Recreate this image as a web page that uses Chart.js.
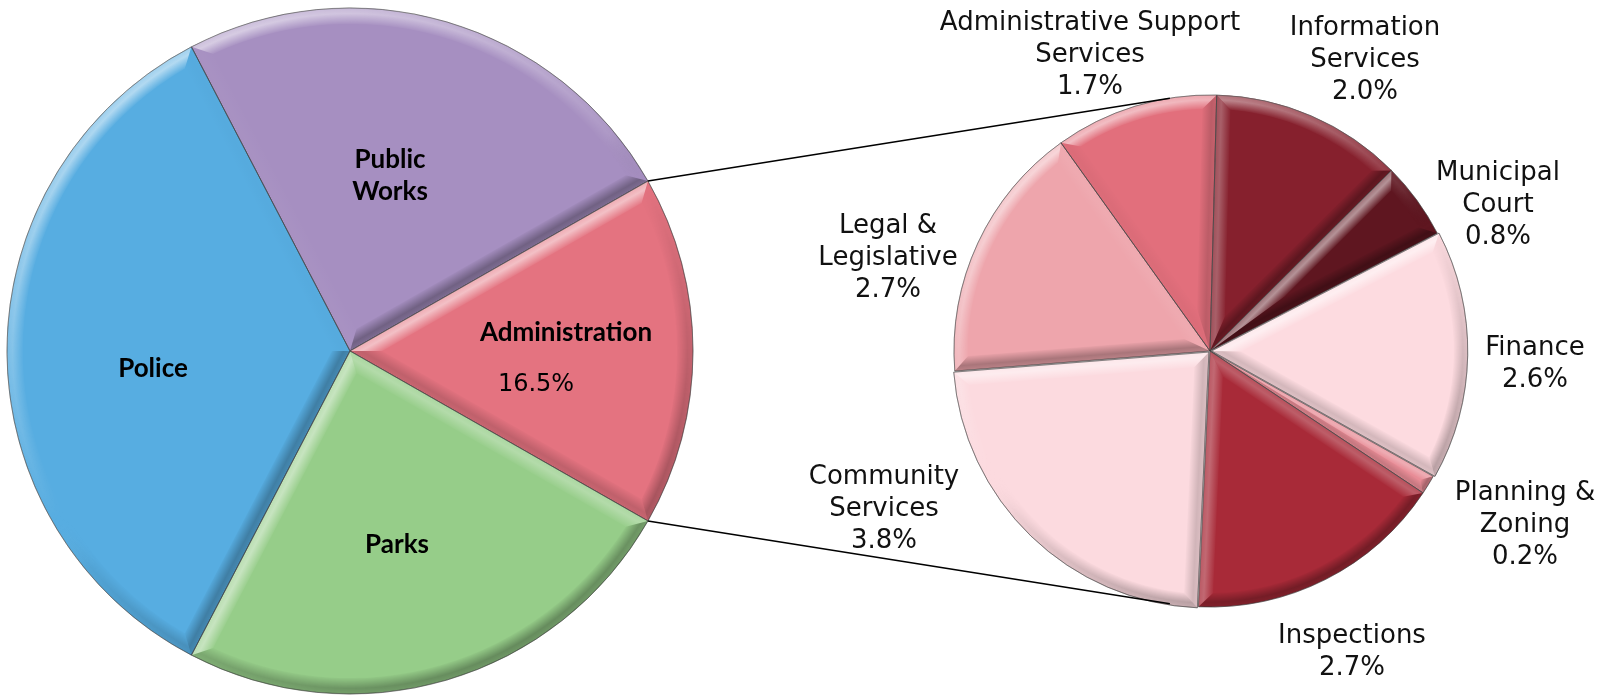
<!DOCTYPE html>
<html>
<head>
<meta charset="utf-8">
<title>General Fund Expenditures by Department</title>
<script src="https://cdn.jsdelivr.net/npm/chart.js@4.4.1/dist/chart.umd.min.js"></script>
<style>
  html, body { margin: 0; padding: 0; background: #fff; overflow: hidden; }
  #stage { position: relative; width: 1610px; height: 696px; }
  canvas { position: absolute; top: 0; }
  #mainPie { left: 0; }
  #adminPie { left: 600px; }
</style>
</head>
<body>
<div id="stage">
  <canvas id="mainPie" width="700" height="696"></canvas>
  <canvas id="adminPie" width="1010" height="696"></canvas>
</div>
<script>
// ---- Data ----
const DEPARTMENTS = ['Public\nWorks', 'Administration', 'Parks', 'Police'];
const DEPT_SHARE = [24.4, 16.5, 24.4, 34.7];
const SPLIT_INDEX = 1; // Administration is broken out in the second pie

const ADMIN_UNITS = [
  'Information\nServices',
  'Municipal\nCourt',
  'Finance',
  'Planning &\nZoning',
  'Inspections',
  'Community\nServices',
  'Legal &\nLegislative',
  'Administrative Support\nServices'
];
const ADMIN_SHARE = [2.0, 0.8, 2.6, 0.2, 2.7, 3.8, 2.7, 1.7];

// ---- Styling ----
const DEPT_COLORS = ['#A68FC1', '#E47380', '#96CD89', '#57ADE1'];
const ADMIN_COLORS = ['#86202D', '#5F1620', '#FDDBE0', '#E88C96', '#A82A38', '#FCDADF', '#EEA5AC', '#E26F7C'];
const ADMIN_OFFSETS = [0, 0, 6, 0, 0, 6, 0, 0];

// label anchors, relative to each pie's centre
const DEPT_LABEL_AT = [[40, -176], [216, -19], [47, 193], [-197, 17]];
const SPLIT_VALUE_AT = [186, 31];
const ADMIN_LABEL_AT = [[155, -294], [288, -149], [325, 10], [315, 171], [142, 298], [-326, 155], [-322, -96], [-120, -299]];
const LINE_H = 32;

const LIGHT = { x: -0.5, y: -0.866 }; // light from upper left

function facetColor(nx, ny, k) {
  const d = nx * LIGHT.x + ny * LIGHT.y;
  return d >= 0
    ? `rgba(255,255,255,${(0.55 * d * k).toFixed(3)})`
    : `rgba(0,0,0,${(-0.32 * d * k).toFixed(3)})`;
}

function edgeGradient(ctx, cx, cy, n, w) {
  // n is the inward normal of the edge; shade by the outward one
  const g = ctx.createLinearGradient(cx, cy, cx + n.x * w, cy + n.y * w);
  g.addColorStop(0, facetColor(-n.x, -n.y, 0.75));
  g.addColorStop(0.35, facetColor(-n.x, -n.y, 1));
  g.addColorStop(1, facetColor(-n.x, -n.y, 0.1));
  return g;
}

const scratch = new WeakMap();
function scratchFor(chart) {
  let c = scratch.get(chart);
  if (!c) {
    c = document.createElement('canvas');
    scratch.set(chart, c);
  }
  c.width = chart.canvas.width;
  c.height = chart.canvas.height;
  return c;
}

// Bevelled look: three soft shaded facets along each slice's edges
const bevelPlugin = {
  id: 'bevel',
  afterDatasetsDraw(chart, args, opts) {
    const ctx = chart.ctx;
    const bw = opts.width || 14;
    const off = scratchFor(chart);
    const octx = off.getContext('2d');
    chart.getDatasetMeta(0).data.forEach(arc => {
      const { x, y, startAngle: s, endAngle: e, outerRadius: R } =
        arc.getProps(['x', 'y', 'startAngle', 'endAngle', 'outerRadius']);
      const sweep = e - s;
      if (sweep <= 0) return;
      // same displacement that ArcElement applies for offset slices
      const o4 = (arc.options.offset || 0) / 4;
      const mid = (s + e) / 2;
      const disp = o4 + o4 * (1 - Math.sin(Math.min(Math.PI, sweep)));
      const cx = x + Math.cos(mid) * disp;
      const cy = y + Math.sin(mid) * disp;

      const h = sweep / 2;
      const sh = Math.sin(Math.min(h, Math.PI / 2));
      const w = Math.min(bw, R * sh / (1 + sh) * 0.9);
      const len = Math.sqrt((R - w) * (R - w) - w * w);

      const inS = { x: -Math.sin(s), y: Math.cos(s) };
      const inE = { x: Math.sin(e), y: -Math.cos(e) };
      const Ps = { x: cx + R * Math.cos(s), y: cy + R * Math.sin(s) };
      const Pe = { x: cx + R * Math.cos(e), y: cy + R * Math.sin(e) };
      const Qs = { x: cx + w * inS.x + len * Math.cos(s), y: cy + w * inS.y + len * Math.sin(s) };
      const Qe = { x: cx + w * inE.x + len * Math.cos(e), y: cy + w * inE.y + len * Math.sin(e) };
      const qd = w / sh;
      const Qc = { x: cx + qd * Math.cos(mid), y: cy + qd * Math.sin(mid) };
      const aQs = Math.atan2(Qs.y - cy, Qs.x - cx);
      const aQe = Math.atan2(Qe.y - cy, Qe.x - cx);

      ctx.save();
      // start edge facet
      ctx.fillStyle = edgeGradient(ctx, cx, cy, inS, w);
      ctx.beginPath();
      ctx.moveTo(cx, cy); ctx.lineTo(Ps.x, Ps.y); ctx.lineTo(Qs.x, Qs.y); ctx.lineTo(Qc.x, Qc.y);
      ctx.closePath(); ctx.fill();

      // end edge facet
      ctx.fillStyle = edgeGradient(ctx, cx, cy, inE, w);
      ctx.beginPath();
      ctx.moveTo(cx, cy); ctx.lineTo(Qc.x, Qc.y); ctx.lineTo(Qe.x, Qe.y); ctx.lineTo(Pe.x, Pe.y);
      ctx.closePath(); ctx.fill();

      // rim facet: shade follows the angle, faded towards the inside
      octx.globalCompositeOperation = 'source-over';
      octx.clearRect(0, 0, off.width, off.height);
      const cg = octx.createConicGradient(0, cx, cy);
      for (let q = 0; q <= 36; q++) {
        const t = q / 36 * Math.PI * 2;
        cg.addColorStop(q / 36, facetColor(Math.cos(t), Math.sin(t), 1));
      }
      octx.fillStyle = cg;
      octx.beginPath();
      octx.moveTo(Ps.x, Ps.y);
      octx.arc(cx, cy, R, s, e);
      octx.lineTo(Qe.x, Qe.y);
      octx.arc(cx, cy, R - w, aQe, aQs, true);
      octx.closePath();
      octx.fill();
      octx.globalCompositeOperation = 'destination-in';
      const rg = octx.createRadialGradient(cx, cy, R - w, cx, cy, R);
      rg.addColorStop(0, 'rgba(0,0,0,0.08)');
      rg.addColorStop(0.65, 'rgba(0,0,0,1)');
      rg.addColorStop(1, 'rgba(0,0,0,0.8)');
      octx.fillStyle = rg;
      octx.fillRect(0, 0, off.width, off.height);
      ctx.drawImage(off, 0, 0);

      // slice outline
      ctx.strokeStyle = 'rgba(60,60,60,0.45)';
      ctx.lineWidth = 1;
      ctx.beginPath();
      ctx.moveTo(cx, cy);
      ctx.arc(cx, cy, R, s, e);
      ctx.closePath(); ctx.stroke();
      ctx.restore();
    });
  }
};

function drawLines(ctx, lines, x, y, font, cap) {
  ctx.font = font;
  const top = y - (lines.length - 1) * LINE_H / 2;
  lines.forEach((t, k) => ctx.fillText(t, x, top + k * LINE_H + cap / 2));
}

const mainLabels = {
  id: 'mainLabels',
  afterDraw(chart) {
    const ctx = chart.ctx;
    const { x: cx, y: cy } = chart.getDatasetMeta(0).data[0];
    ctx.save();
    ctx.fillStyle = '#000';
    ctx.textAlign = 'center';
    ctx.textBaseline = 'alphabetic';
    DEPARTMENTS.forEach((name, i) => {
      const [dx, dy] = DEPT_LABEL_AT[i];
      drawLines(ctx, name.split('\n'), cx + dx, cy + dy, "bold 26px Lato", 18);
    });
    const [vx, vy] = SPLIT_VALUE_AT;
    drawLines(ctx, [DEPT_SHARE[SPLIT_INDEX].toFixed(1) + '%'], cx + vx, cy + vy, "24px 'DejaVu Sans'", 17);
    ctx.restore();
  }
};

// tangent point on a circle (centre c, radius r) seen from point p
function tangentPoint(p, c, r, upper) {
  const dx = p.x - c.x, dy = p.y - c.y;
  const base = Math.atan2(dy, dx);
  const beta = Math.acos(r / Math.hypot(dx, dy));
  const a = { x: c.x + r * Math.cos(base + beta), y: c.y + r * Math.sin(base + beta) };
  const b = { x: c.x + r * Math.cos(base - beta), y: c.y + r * Math.sin(base - beta) };
  return upper ? (a.y < b.y ? a : b) : (a.y > b.y ? a : b);
}

const adminLabels = {
  id: 'adminLabels',
  afterDraw(chart) {
    const ctx = chart.ctx;
    const first = chart.getDatasetMeta(0).data[0];
    const cx = first.x, cy = first.y, R = first.outerRadius;
    ctx.save();
    ctx.fillStyle = '#111';
    ctx.textAlign = 'center';
    ctx.textBaseline = 'alphabetic';
    ADMIN_UNITS.forEach((name, i) => {
      const [dx, dy] = ADMIN_LABEL_AT[i];
      const lines = name.split('\n').concat(ADMIN_SHARE[i].toFixed(1) + '%');
      drawLines(ctx, lines, cx + dx, cy + dy, "26px 'DejaVu Sans'", 19);
    });

    // connector lines from the Administration slice to the breakdown pie
    const split = mainChart.getDatasetMeta(0).data[SPLIT_INDEX];
    const lr = mainChart.canvas.getBoundingClientRect();
    const rr = chart.canvas.getBoundingClientRect();
    const ox = lr.left - rr.left, oy = lr.top - rr.top;
    const centre = { x: cx, y: cy };
    [[split.startAngle, true], [split.endAngle, false]].forEach(([ang, upper]) => {
      const p = {
        x: split.x + ox + split.outerRadius * Math.cos(ang),
        y: split.y + oy + split.outerRadius * Math.sin(ang)
      };
      const t = tangentPoint(p, centre, R, upper);
      ctx.strokeStyle = '#000';
      ctx.lineWidth = 1.6;
      ctx.beginPath();
      ctx.moveTo(p.x, p.y);
      ctx.lineTo(t.x, t.y);
      ctx.stroke();
    });
    ctx.restore();
  }
};

// place the Administration slice centred on the right-hand side
const total = DEPT_SHARE.reduce((a, b) => a + b, 0);
const before = DEPT_SHARE.slice(0, SPLIT_INDEX).reduce((a, b) => a + b, 0);
const mainRotation = 90 - (before + DEPT_SHARE[SPLIT_INDEX] / 2) / total * 360;

const commonOptions = {
  responsive: false,
  animation: false,
  events: [],
  plugins: { legend: { display: false }, tooltip: { enabled: false } }
};

const mainChart = new Chart(document.getElementById('mainPie'), {
  type: 'pie',
  data: {
    labels: DEPARTMENTS,
    datasets: [{
      data: DEPT_SHARE,
      backgroundColor: DEPT_COLORS,
      borderColor: 'rgba(70,70,70,0.4)',
      borderWidth: 1
    }]
  },
  options: {
    ...commonOptions,
    radius: 343,
    rotation: mainRotation,
    layout: { padding: { top: 6 } },
    plugins: { ...commonOptions.plugins, bevel: { width: 16 } }
  },
  plugins: [bevelPlugin, mainLabels]
});

const adminChart = new Chart(document.getElementById('adminPie'), {
  type: 'pie',
  data: {
    labels: ADMIN_UNITS,
    datasets: [{
      data: ADMIN_SHARE,
      backgroundColor: ADMIN_COLORS,
      offset: ADMIN_OFFSETS,
      borderColor: 'rgba(70,70,70,0.4)',
      borderWidth: 1
    }]
  },
  options: {
    ...commonOptions,
    radius: 256,
    rotation: 1.5,
    layout: { padding: { left: 210, top: 6 } },
    plugins: { ...commonOptions.plugins, bevel: { width: 14 } }
  },
  plugins: [bevelPlugin, adminLabels]
});
</script>
</body>
</html>
